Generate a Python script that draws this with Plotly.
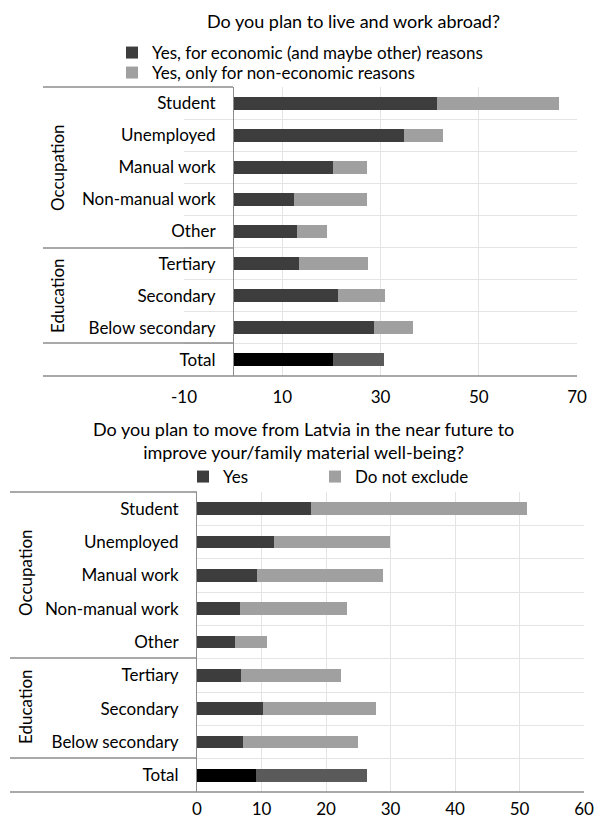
import plotly.graph_objects as go

categories = ["Student", "Unemployed", "Manual work", "Non-manual work", "Other",
              "Tertiary", "Secondary", "Below secondary", "Total"]

# Chart 1: Do you plan to live and work abroad?
abroad_economic = [41.6, 34.8, 20.3, 12.3, 12.9, 13.4, 21.4, 28.6, 20.3]
abroad_non_economic = [24.8, 7.9, 6.9, 14.9, 6.2, 14.0, 9.5, 8.1, 10.5]

# Chart 2: Do you plan to move from Latvia ...
move_yes = [17.6, 12.0, 9.3, 6.7, 5.9, 6.8, 10.2, 7.1, 9.1]
move_not_exclude = [33.6, 17.9, 19.5, 16.5, 4.9, 15.6, 17.5, 17.9, 17.2]

x1_ticks = [-10, 10, 30, 50, 70]
x1_ticklabels = ["-10", "10", "30", "50", "70"]
x2_ticks = [0, 10, 20, 30, 40, 50, 60]

title1 = "Do you plan to live and work abroad?"
title2 = "Do you plan to move from Latvia in the near future to<br>improve your/family material well-being?"

W, H = 594, 818
FONT = "Lato"
FS = 17
DARK = "#3d3d3d"
LIGHT = "#a0a0a0"
LINE = "#8c8c8c"
GRID = "#e4e4e4"

def px(x):
    return x / W

def py(y):
    return 1 - y / H

def colors(base, total):
    return [base] * (len(categories) - 1) + [total]

fig = go.Figure()

fig.add_trace(go.Bar(y=categories, x=abroad_economic, orientation="h",
                     name="Yes, for economic (and maybe other) reasons",
                     marker=dict(color=colors(DARK, "#000000"), line=dict(width=0)),
                     xaxis="x", yaxis="y", legend="legend"))
fig.add_trace(go.Bar(y=categories, x=abroad_non_economic, orientation="h",
                     name="Yes, only for non-economic reasons",
                     marker=dict(color=colors(LIGHT, "#5a5a5a"), line=dict(width=0)),
                     xaxis="x", yaxis="y", legend="legend2"))
fig.add_trace(go.Bar(y=categories, x=move_yes, orientation="h",
                     name="Yes", width=0.38,
                     marker=dict(color=colors(DARK, "#000000"), line=dict(width=0)),
                     xaxis="x2", yaxis="y2", legend="legend3"))
fig.add_trace(go.Bar(y=categories, x=move_not_exclude, orientation="h",
                     name="Do not exclude", width=0.38,
                     marker=dict(color=colors(LIGHT, "#5a5a5a"), line=dict(width=0)),
                     xaxis="x2", yaxis="y2", legend="legend4"))

# geometry (pixels)
t1_left, t1_right, t1_top, t1_bot, t1_zero = 184, 577, 87, 376, 233
t2_left, t2_right, t2_top, t2_bot = 197, 584, 492, 792

cat_axis = dict(type="category", categoryorder="array", categoryarray=categories,
                autorange="reversed", tickson="boundaries", showgrid=True,
                gridcolor=GRID, gridwidth=1, ticks="", showline=True,
                linecolor=LINE, linewidth=1, zeroline=False, automargin=False,
                tickfont=dict(family=FONT, size=FS, color="#000000"),
                ticklabelstandoff=14)

def leg(x, y):
    return dict(x=px(x), y=py(y), xanchor="left", yanchor="middle",
                orientation="v", bgcolor="rgba(0,0,0,0)", itemwidth=30,
                font=dict(family=FONT, size=FS), tracegroupgap=0)

fig.update_layout(
    width=W, height=H, margin=dict(l=0, r=0, t=0, b=0, pad=0, autoexpand=False),
    paper_bgcolor="white", plot_bgcolor="rgba(0,0,0,0)",
    barmode="stack", bargap=0.595,
    font=dict(family=FONT, size=FS, color="#000000"),
    xaxis=dict(domain=[px(t1_left), px(t1_right)], range=[-10, 70],
               tickvals=x1_ticks, ticktext=x1_ticklabels,
               showgrid=True, gridcolor=GRID, zeroline=False, showline=False,
               anchor="y", ticks="", ticklabelstandoff=9, automargin=False,
               tickfont=dict(family=FONT, size=FS)),
    yaxis=dict(domain=[py(t1_bot), py(t1_top)], anchor="free",
               position=px(t1_zero), **cat_axis),
    xaxis2=dict(domain=[px(t2_left), px(t2_right)], range=[0, 60], tickvals=x2_ticks,
                showgrid=True, gridcolor=GRID, zeroline=False, showline=False,
                anchor="y2", ticks="", ticklabelstandoff=5, automargin=False,
                tickfont=dict(family=FONT, size=FS)),
    yaxis2=dict(domain=[py(t2_bot), py(t2_top)], anchor="x2", **cat_axis),
    legend=leg(112, 53),
    legend2=leg(112, 73),
    legend3=leg(183, 477),
    legend4=leg(315, 477),
    showlegend=True,
)

# titles
fig.add_annotation(text=title1, x=px(353), y=py(21), xref="paper", yref="paper",
                   showarrow=False, font=dict(family=FONT, size=FS + 1), xanchor="center", yanchor="middle")
fig.add_annotation(text=title2, x=px(303), y=py(440), xref="paper", yref="paper",
                   showarrow=False, font=dict(family=FONT, size=FS + 1), xanchor="center", yanchor="middle")

# group labels
for (xg, yg, txt) in [(57, 167, "Occupation"), (57, 295, "Education"),
                      (25, 573, "Occupation"), (25, 707, "Education")]:
    fig.add_annotation(text=txt, x=px(xg), y=py(yg), xref="paper", yref="paper",
                       showarrow=False, textangle=-90, font=dict(family=FONT, size=FS),
                       xanchor="center", yanchor="middle")

# label box lines
def hline(x0, x1, y):
    fig.add_shape(type="line", xref="paper", yref="paper", x0=px(x0), x1=px(x1),
                  y0=py(y), y1=py(y), line=dict(color=LINE, width=1.3))

hline(43, t1_zero, t1_top)
hline(43, t1_zero, 248)
hline(43, t1_zero, 343)
hline(43, t1_right, t1_bot)
hline(10, t2_left, t2_top)
hline(10, t2_left, 658)
hline(10, t2_left, 758)
hline(10, t2_right, t2_bot)

fig.write_html("out.html", config={"displayModeBar": False},
               post_script="document.body.style.margin='0';document.body.style.overflow='hidden';")
